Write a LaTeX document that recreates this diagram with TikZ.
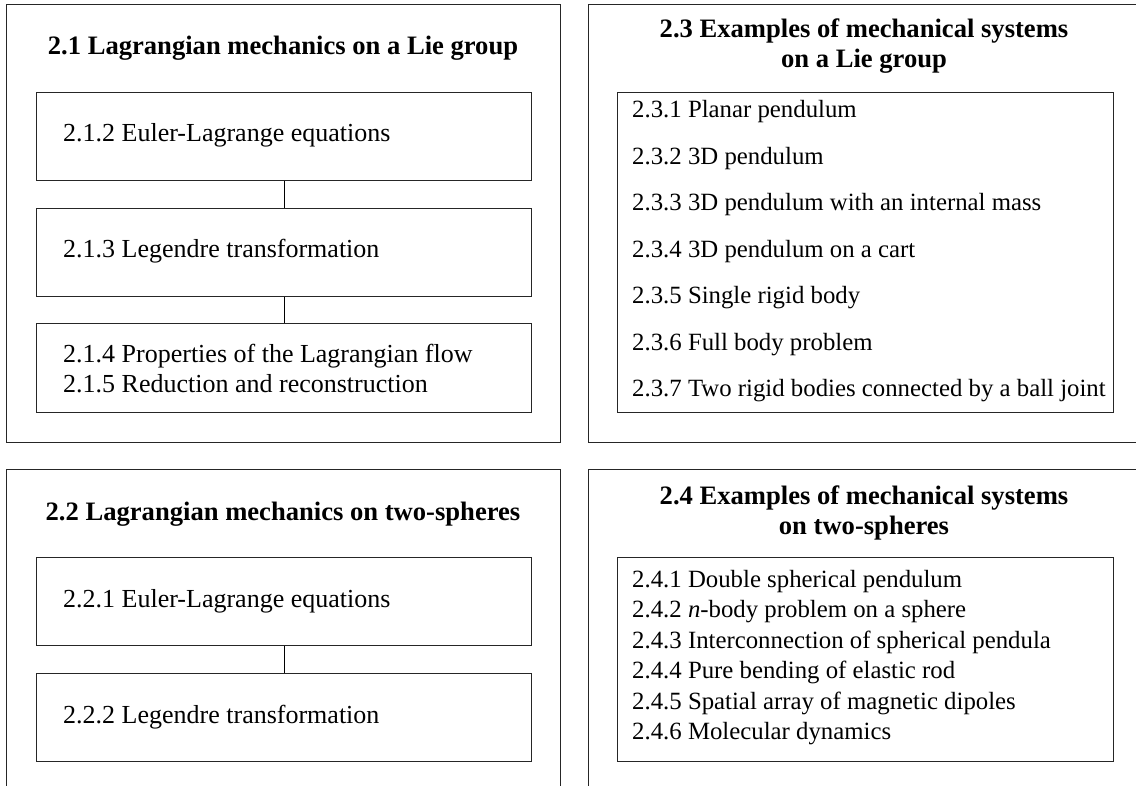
\documentclass[tikz,border=0pt]{standalone}
\usepackage{fontspec}
\setmainfont{Liberation Serif}
\begin{document}
\begin{tikzpicture}[x=1pt,y=-1pt,
  frame/.style={draw=black!85,line width=0.9pt},
  innerbox/.style={draw=black!85,line width=0.9pt,rectangle,anchor=north west,inner sep=0pt},
  ttl/.style={anchor=base,font=\fontsize{26.6}{30}\selectfont\bfseries,inner sep=0pt},
  itm/.style={anchor=base west,font=\fontsize{26}{30}\selectfont,inner sep=0pt},
  lst/.style={anchor=base west,font=\fontsize{24.8}{30}\selectfont,inner sep=0pt},
  link/.style={draw=black,line width=0.8pt}]
\useasboundingbox (0,0) rectangle (1136,786);
% outer frames
\draw[frame] (6,4) rectangle (560,442);
\draw[frame] (588,442) -- (588,4) -- (1137,4);
\draw[frame] (588,442) -- (1137,442);
\draw[frame] (6,787) -- (6,469) -- (560,469) -- (560,787);
\draw[frame] (588,787) -- (588,469) -- (1137,469);
% 2.1
\node[ttl] (t21) at (283,55) {2.1 Lagrangian mechanics on a Lie group};
\node[innerbox,minimum width=495pt,minimum height=88pt] (b212) at (36,92) {};
\node[innerbox,minimum width=495pt,minimum height=88pt] (b213) at (36,208) {};
\node[innerbox,minimum width=495pt,minimum height=89pt] (b214) at (36,323) {};
\node[itm] (s212) at (63,142) {2.1.2 Euler-Lagrange equations};
\node[itm] (s213) at (63,258) {2.1.3 Legendre transformation};
\node[itm] (s214) at (63,363) {2.1.4 Properties of the Lagrangian flow};
\node[itm] (s215) at (63,393) {2.1.5 Reduction and reconstruction};
\draw[link] (b212.south) -- (b213.north);
\draw[link] (b213.south) -- (b214.north);
% 2.2
\node[ttl] (t22) at (283,520) {2.2 Lagrangian mechanics on two-spheres};
\node[innerbox,minimum width=495pt,minimum height=88pt] (b221) at (36,557) {};
\node[innerbox,minimum width=495pt,minimum height=88pt] (b222) at (36,673) {};
\node[itm] (s221) at (63,607) {2.2.1 Euler-Lagrange equations};
\node[itm] (s222) at (63,723) {2.2.2 Legendre transformation};
\draw[link] (b221.south) -- (b222.north);
% 2.3
\node[ttl] (t23a) at (864,38) {2.3 Examples of mechanical systems};
\node[ttl] (t23b) at (864,68) {on a Lie group};
\node[innerbox,minimum width=496pt,minimum height=320pt] (l23) at (617,92) {};
\node[lst] (s231) at (632,118) {2.3.1 Planar pendulum};
\node[lst] (s232) at (632,164.5) {2.3.2 3D pendulum};
\node[lst] (s233) at (632,211) {2.3.3 3D pendulum with an internal mass};
\node[lst] (s234) at (632,257.5) {2.3.4 3D pendulum on a cart};
\node[lst] (s235) at (632,304) {2.3.5 Single rigid body};
\node[lst] (s236) at (632,350.5) {2.3.6 Full body problem};
\node[lst] (s237) at (632,397) {2.3.7 Two rigid bodies connected by a ball joint};
% 2.4
\node[ttl] (t24a) at (864,504) {2.4 Examples of mechanical systems};
\node[ttl] (t24b) at (864,534) {on two-spheres};
\node[innerbox,minimum width=496pt,minimum height=204pt] (l24) at (617,557) {};
\node[lst] (s241) at (632,587) {2.4.1 Double spherical pendulum};
\node[lst] (s242) at (632,617.5) {2.4.2 \textit{n}-body problem on a sphere};
\node[lst] (s243) at (632,648) {2.4.3 Interconnection of spherical pendula};
\node[lst] (s244) at (632,678.5) {2.4.4 Pure bending of elastic rod};
\node[lst] (s245) at (632,709) {2.4.5 Spatial array of magnetic dipoles};
\node[lst] (s246) at (632,739.5) {2.4.6 Molecular dynamics};
\end{tikzpicture}
\end{document}
